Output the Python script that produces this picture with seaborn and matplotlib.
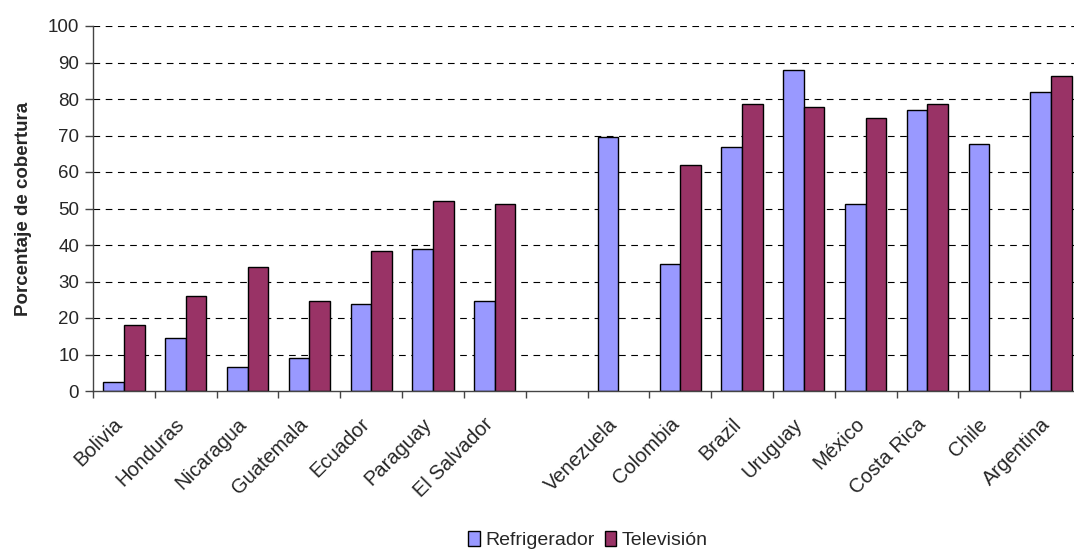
import matplotlib
matplotlib.use("Agg")
import matplotlib.pyplot as plt
import matplotlib.transforms as mtransforms
from matplotlib.ticker import FixedLocator, MultipleLocator
import seaborn as sns
import pandas as pd

categories = ["Bolivia", "Honduras", "Nicaragua", "Guatemala", "Ecuador", "Paraguay",
              "El Salvador", "", "Venezuela", "Colombia", "Brazil", "Uruguay", "México",
              "Costa Rica", "Chile", "Argentina"]
refrigerador = [2.5, 14.4, 6.5, 9.1, 23.8, 38.9, 24.7, None, 69.5, 34.8, 66.8, 88.0,
                51.3, 76.9, 67.6, 81.8]
television = [18.1, 26.0, 34.1, 24.7, 38.4, 52.1, 51.3, None, None, 61.9, 78.7, 77.8,
              74.8, 78.7, None, 86.2]
series = ["Refrigerador", "Televisión"]
colors = ["#9999FF", "#993366"]

rows = []
for c, r, t in zip(categories, refrigerador, television):
    if r is not None:
        rows.append({"pais": c, "serie": series[0], "valor": r})
    if t is not None:
        rows.append({"pais": c, "serie": series[1], "valor": t})
df = pd.DataFrame(rows)

sns.set_theme(style="white")
plt.rcParams["font.family"] = ["Liberation Sans", "DejaVu Sans"]

fig = plt.figure(figsize=(10.74, 5.52), dpi=100)
ax = fig.add_axes([93/1074, 1 - 391/552, (1082 - 93)/1074, (391 - 26)/552])

sns.barplot(data=df, x="pais", y="valor", hue="serie", order=categories,
            hue_order=series, palette=colors, width=0.667, edgecolor="black",
            linewidth=1.0, saturation=1, ax=ax, legend=True)

ax.set_ylim(0, 100)
ax.set_xlim(-0.5, len(categories) - 0.5)
ax.yaxis.set_major_locator(MultipleLocator(10))
for v in range(10, 101, 10):
    ax.axhline(v, color="black", linestyle=(0, (6, 5)), linewidth=0.8, zorder=0)
ax.set_axisbelow(True)

for s in ["top", "right"]:
    ax.spines[s].set_visible(False)
for s in ["left", "bottom"]:
    ax.spines[s].set_color("#444444")
    ax.spines[s].set_linewidth(1.0)

ax.set_xticks(range(len(categories)))
ax.set_xticklabels(categories, rotation=45, ha="right", rotation_mode="anchor", fontsize=14.5)
ax.tick_params(axis="x", which="major", length=0, pad=17)
offset = mtransforms.ScaledTranslation(-11/100, 0, fig.dpi_scale_trans)
for lbl in ax.get_xticklabels():
    lbl.set_transform(lbl.get_transform() + offset)
ax.xaxis.set_minor_locator(FixedLocator([i - 0.5 for i in range(len(categories) + 1)]))
ax.tick_params(axis="x", which="minor", length=5, width=1, color="#444444", direction="out", bottom=True)
ax.tick_params(axis="y", length=6, width=1, color="#444444", direction="out", left=True, labelsize=13.5, pad=4)

ax.set_xlabel("")
ax.set_ylabel("Porcentaje de cobertura", fontsize=13.5, fontweight="bold", labelpad=11)

handles, labels = ax.get_legend_handles_labels()
ax.get_legend().remove()
fig.legend(handles, labels, loc="center", bbox_to_anchor=(588/1074, 1 - 540/552),
           ncol=2, frameon=False, fontsize=14, handlelength=0.6, handleheight=0.8,
           handletextpad=0.3, columnspacing=0.5)

fig.savefig("out.png", dpi=100)
